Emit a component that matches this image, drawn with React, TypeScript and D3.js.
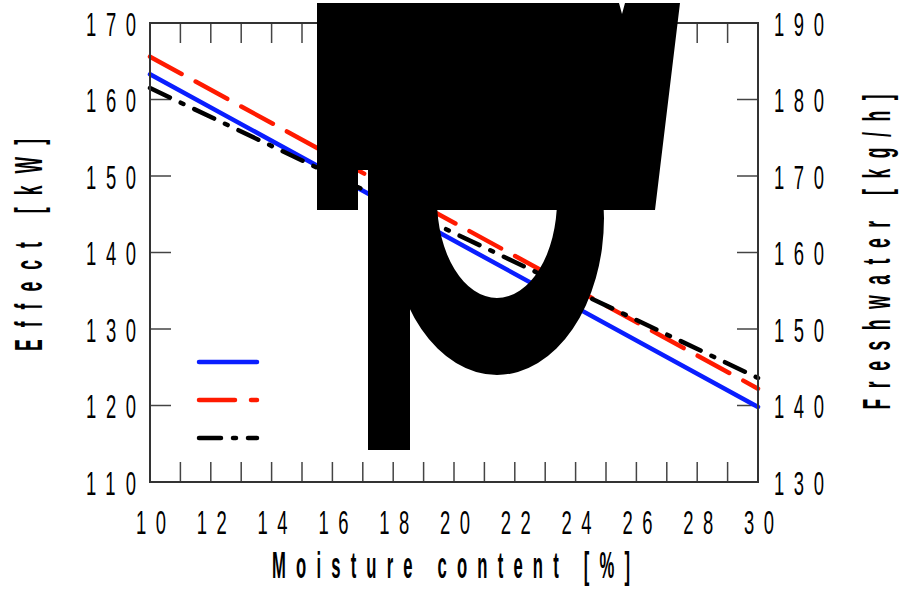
import React from "react";
import * as d3 from "d3";

// ---- data ----
const moisture = [10, 30];
const effectBlue = [163.3, 119.8];
const effectRed = [165.6, 122.2];
const effectBlack = [161.5, 123.6];
const xTicks = [10, 12, 14, 16, 18, 20, 22, 24, 26, 28, 30];
const xMinorTicks = d3.range(11, 30, 1);
const leftTicks = [110, 120, 130, 140, 150, 160, 170];
const rightTicks = [130, 140, 150, 160, 170, 180, 190];
const xTitle = "Moisture content [%]";
const leftTitle = "Effect [kW]";
const rightTitle = "Freshwater [kg/h]";

const W = 904, H = 591;
const M = { left: 150, right: 758, top: 23, bottom: 482 };
const FONT = "'Liberation Sans', Arial, sans-serif";

const x = d3.scaleLinear().domain([10, 30]).range([M.left, M.right]);
const yL = d3.scaleLinear().domain([110, 170]).range([M.bottom, M.top]);
const yR = d3.scaleLinear().domain([130, 190]).range([M.bottom, M.top]);

const series = [
  { values: effectBlue, color: "#0a1eff", dash: undefined as string | undefined },
  { values: effectRed, color: "#ff1a00", dash: "36,16" },
  { values: effectBlack, color: "#000000", dash: "22,12,3,12" },
];

function SText(props: {
  x: number; y: number; text: string; size: number; sx: number; len: number;
  anchor?: string; weight?: string | number; rotate?: number;
}) {
  const { x: tx, y: ty, text, size, sx, len, anchor = "start", weight = "normal", rotate = 0 } = props;
  return (
    <text
      transform={`translate(${tx},${ty}) rotate(${rotate}) scale(${sx},1)`}
      fontSize={size}
      fontFamily={FONT}
      fontWeight={weight}
      textAnchor={anchor}
      textLength={len / sx}
      lengthAdjust="spacing"
      fill="#000"
    >
      {text}
    </text>
  );
}

export default function App() {
  const line = d3.line<number>().x((_, i) => x(moisture[i])).y((d) => yL(d));
  const TS = 33.5, TSX = 0.55;
  const labLen = (s: string) => (s.length === 3 ? 50 : 30);
  const tickColor = "#444";
  return (
    <svg width={W} height={H} style={{ position: "fixed", left: 0, top: 0, background: "#fff" }}>
      <rect x={0} y={0} width={W} height={H} fill="#fff" />
      {/* ticks */}
      {xMinorTicks.map((t) => (
        <g key={"xt" + t}>
          <line x1={x(t)} x2={x(t)} y1={M.bottom} y2={M.bottom - 20} stroke={tickColor} strokeWidth={1.5} />
          <line x1={x(t)} x2={x(t)} y1={M.top} y2={M.top + 20} stroke={tickColor} strokeWidth={1.5} />
        </g>
      ))}
      {leftTicks.map((t) => (
        <line key={"lt" + t} x1={M.left} x2={M.left + 21} y1={yL(t)} y2={yL(t)} stroke={tickColor} strokeWidth={1.5} />
      ))}
      {rightTicks.map((t) => (
        <line key={"rt" + t} x1={M.right - 21} x2={M.right} y1={yR(t)} y2={yR(t)} stroke={tickColor} strokeWidth={1.5} />
      ))}
      {/* series */}
      {series.map((s, i) => (
        <path key={"s" + i} d={line(s.values) || ""} fill="none" stroke={s.color} strokeWidth={4.5}
          strokeDasharray={s.dash} strokeLinecap="round" />
      ))}
      {/* frame */}
      <rect x={M.left} y={M.top} width={M.right - M.left} height={M.bottom - M.top} fill="none" stroke="#333" strokeWidth={2} />
      {/* legend */}
      {series.map((s, i) => (
        <line key={"lg" + i} x1={199} x2={257} y1={362 + i * 38} y2={362 + i * 38} stroke={s.color} strokeWidth={4.5}
          strokeDasharray={s.dash} strokeLinecap="round" />
      ))}
      {/* oversized legend glyph artifact */}
      <g fill="#000">
        <path d="M317,3 H619 L622,14 L625,3 H680 L655,210 H368 V170 H358 V210 H317 Z" />
        <rect x={368} y={170} width={42} height={280} />
        <path fillRule="evenodd"
          d="M390,218 A107,157 0 1,0 604,218 A107,157 0 1,0 390,218 Z M437,200 A60,98 0 1,0 557,200 A60,98 0 1,0 437,200 Z" />
      </g>
      {/* tick labels */}
      {leftTicks.map((t) => (
        <SText key={"ll" + t} x={136} y={yL(t) + 12.5} text={String(t)} size={TS} sx={TSX} len={labLen(String(t))} anchor="end" />
      ))}
      {rightTicks.map((t) => (
        <SText key={"rl" + t} x={774} y={yR(t) + 12.5} text={String(t)} size={TS} sx={TSX} len={labLen(String(t))} anchor="start" />
      ))}
      {xTicks.map((t) => (
        <SText key={"xl" + t} x={x(t) + 1} y={534} text={String(t)} size={TS} sx={TSX} len={labLen(String(t))} anchor="middle" />
      ))}
      {/* titles */}
      <SText x={451} y={578} text={xTitle} size={37} sx={0.45} len={358} anchor="middle" weight="bold" />
      <SText x={42} y={245} text={leftTitle} size={39} sx={0.45} len={212} anchor="middle" weight="bold" rotate={-90} />
      <SText x={890} y={252} text={rightTitle} size={39} sx={0.45} len={315} anchor="middle" weight="bold" rotate={-90} />
    </svg>
  );
}
